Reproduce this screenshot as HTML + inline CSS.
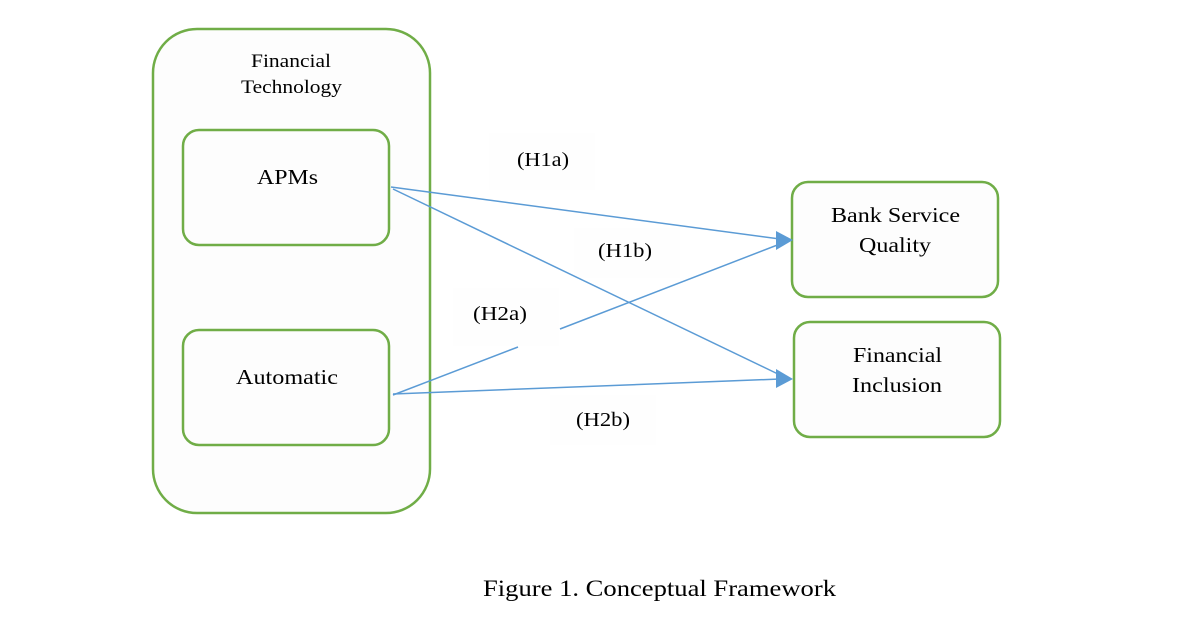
<!DOCTYPE html>
<html><head><style>
html,body{margin:0;padding:0;background:#fff;}
svg text{font-family:"Liberation Serif",serif;fill:#000;}
</style></head><body>
<svg width="1182" height="622" viewBox="0 0 1182 622" xmlns="http://www.w3.org/2000/svg">
<rect x="153" y="29" width="277" height="484" rx="44" fill="#fdfdfd" stroke="#70ad47" stroke-width="2.5"/>
<text x="251" y="67" font-size="19" textLength="80" lengthAdjust="spacingAndGlyphs">Financial</text>
<text x="241" y="93" font-size="19" textLength="101" lengthAdjust="spacingAndGlyphs">Technology</text>
<rect x="183" y="130" width="206" height="115" rx="16" fill="#fdfdfd" stroke="#70ad47" stroke-width="2.5"/>
<text x="257" y="184" font-size="21" textLength="61" lengthAdjust="spacingAndGlyphs">APMs</text>
<rect x="183" y="330" width="206" height="115" rx="16" fill="#fdfdfd" stroke="#70ad47" stroke-width="2.5"/>
<text x="236" y="384" font-size="21" textLength="102" lengthAdjust="spacingAndGlyphs">Automatic</text>
<rect x="792" y="182" width="206" height="115" rx="16" fill="#fdfdfd" stroke="#70ad47" stroke-width="2.5"/>
<text x="831" y="222" font-size="21" textLength="129" lengthAdjust="spacingAndGlyphs">Bank Service</text>
<text x="859" y="252" font-size="21" textLength="72" lengthAdjust="spacingAndGlyphs">Quality</text>
<rect x="794" y="322" width="206" height="115" rx="16" fill="#fdfdfd" stroke="#70ad47" stroke-width="2.5"/>
<text x="853" y="362" font-size="21" textLength="89" lengthAdjust="spacingAndGlyphs">Financial</text>
<text x="852" y="392" font-size="21" textLength="90" lengthAdjust="spacingAndGlyphs">Inclusion</text>
<rect x="489" y="133" width="106" height="57" fill="#fefefe"/>
<rect x="574" y="228" width="106" height="50" fill="#fefefe"/>
<rect x="453" y="288" width="106" height="58" fill="#fefefe"/>
<rect x="550" y="395" width="106" height="50" fill="#fefefe"/>
<g stroke="#5b9bd5" stroke-width="1.5" fill="none">
<line x1="391" y1="187" x2="780" y2="239"/>
<line x1="393" y1="189" x2="780" y2="375"/>
<line x1="393" y1="395" x2="518" y2="347"/>
<line x1="560" y1="329" x2="780" y2="244"/>
<line x1="393" y1="394" x2="780" y2="379"/>
</g>
<g fill="#5b9bd5">
<polygon points="793,240 776,231 776,250"/>
<polygon points="793,379 776,369 776,388"/>
</g>
<text x="517" y="166" font-size="20" textLength="52" lengthAdjust="spacingAndGlyphs">(H1a)</text>
<text x="598" y="257" font-size="20" textLength="54" lengthAdjust="spacingAndGlyphs">(H1b)</text>
<text x="473" y="320" font-size="20" textLength="54" lengthAdjust="spacingAndGlyphs">(H2a)</text>
<text x="576" y="426" font-size="20" textLength="54" lengthAdjust="spacingAndGlyphs">(H2b)</text>
<text x="483" y="596" font-size="23" textLength="353" lengthAdjust="spacingAndGlyphs">Figure 1. Conceptual Framework</text>
</svg>
</body></html>
